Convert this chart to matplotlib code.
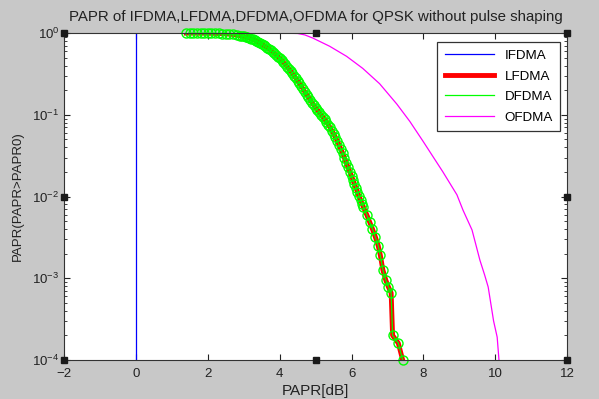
import matplotlib
matplotlib.use("Agg")
import matplotlib.pyplot as plt
import matplotlib.ticker as mticker

plt.rcParams['font.family'] = ['Liberation Sans', 'DejaVu Sans']
plt.rcParams['mathtext.default'] = 'regular'

# IFDMA: constant envelope -> vertical line at 0 dB
papr_i = [0.0, 0.0]
ccdf_i = [1.0, 1e-4]

# LFDMA / DFDMA (same curve)
papr_l = [1.40, 1.50, 1.60, 1.70, 1.80, 1.90, 2.00, 2.10, 2.20, 2.30, 2.40, 2.50,
          2.60, 2.70, 2.80, 2.90, 2.95, 3.00, 3.05, 3.10, 3.15, 3.20, 3.25, 3.30,
          3.35, 3.40, 3.45, 3.50, 3.55, 3.60, 3.65, 3.70, 3.75, 3.80, 3.85, 3.90,
          3.95, 4.00, 4.05, 4.10, 4.15, 4.20, 4.25, 4.30, 4.35, 4.40, 4.45, 4.50,
          4.55, 4.60, 4.65, 4.70, 4.75, 4.80, 4.85, 4.90, 4.95, 5.00, 5.05, 5.10,
          5.15, 5.20, 5.25, 5.30, 5.35, 5.40, 5.45, 5.50, 5.55, 5.60, 5.65, 5.70,
          5.75, 5.80, 5.85, 5.90, 5.95, 6.00, 6.04, 6.08, 6.12, 6.16, 6.20, 6.25,
          6.29, 6.33, 6.42, 6.50, 6.58, 6.66, 6.74, 6.80, 6.87, 6.95, 7.02, 7.10,
          7.14, 7.30, 7.42]
ccdf_l = [1.0, 1.0, 1.0, 0.999, 0.999, 0.998, 0.997, 0.995, 0.993, 0.99, 0.986, 0.98,
          0.972, 0.962, 0.948, 0.93, 0.92, 0.91, 0.898, 0.885, 0.87, 0.855, 0.838, 0.82,
          0.80, 0.78, 0.758, 0.735, 0.712, 0.69, 0.665, 0.64, 0.615, 0.59, 0.565, 0.54,
          0.515, 0.49, 0.465, 0.44, 0.415, 0.39, 0.367, 0.345, 0.322, 0.30, 0.28, 0.26,
          0.242, 0.225, 0.207, 0.19, 0.177, 0.165, 0.152, 0.14, 0.131, 0.122, 0.114, 0.107,
          0.100, 0.094, 0.088, 0.082, 0.076, 0.070, 0.064, 0.059, 0.053, 0.048, 0.043, 0.038,
          0.034, 0.0295, 0.026, 0.023, 0.020, 0.0178, 0.0158, 0.0141, 0.0128, 0.0115, 0.0102, 0.0091,
          0.0082, 0.0074, 0.0060, 0.0049, 0.0040, 0.0032, 0.0025, 0.0019, 0.00126, 0.00095, 0.00079, 0.00066,
          0.0002, 0.00016, 0.0001]

# OFDMA
papr_o = [3.0, 3.5, 4.0, 4.5, 4.7, 4.92, 5.39, 5.86, 6.31, 6.78, 7.26, 7.62, 7.98,
          8.54, 8.93, 9.1, 9.35, 9.57, 9.7, 9.80, 9.95, 10.05, 10.10]
ccdf_o = [1.0, 1.0, 0.999, 0.99, 0.95, 0.87, 0.69, 0.52, 0.37, 0.24, 0.135, 0.083, 0.048,
          0.020, 0.0105, 0.0068, 0.0039, 0.00166, 0.0011, 0.00078, 0.0003, 0.00019, 0.0001]

xticks = [-2, 0, 2, 4, 6, 8, 10, 12]

fig = plt.figure(figsize=(5.99, 3.99), dpi=100, facecolor='#c8c8c8')
ax = fig.add_axes([0.107, 0.098, 0.840, 0.819])

ax.semilogy(papr_i, ccdf_i, color='#0000ff', lw=0.9, label='IFDMA')
ax.semilogy(papr_l, ccdf_l, color='#ff0000', lw=3.5, label='LFDMA')
ax.semilogy(papr_l, ccdf_l, color='#00ff00', lw=0.9, label='DFDMA')
ax.semilogy(papr_l, ccdf_l, ls='none', marker='o', ms=6.5, mfc='none',
            mec='#00ff00', mew=1.0, clip_on=False)
ax.semilogy(papr_o, ccdf_o, color='#ff00ff', lw=0.9, label='OFDMA')

ax.set_xlim(-2, 12)
ax.set_ylim(1e-4, 1)
ax.set_xticks(xticks)
ax.yaxis.set_major_locator(mticker.LogLocator(base=10, numticks=10))
ax.yaxis.set_minor_locator(mticker.LogLocator(base=10, subs=range(2, 10), numticks=10))
ax.yaxis.set_minor_formatter(mticker.NullFormatter())
ax.tick_params(which='both', direction='in', top=True, right=True, labelsize=9.5,
               colors='#222222')
ax.tick_params(axis='x', pad=6)
ax.tick_params(which='major', length=4)
ax.tick_params(which='minor', length=2)
for s in ax.spines.values():
    s.set_color('#333333')

ax.set_title('PAPR of IFDMA,LFDMA,DFDMA,OFDMA for QPSK without pulse shaping',
             fontsize=10.8, color='#222222', pad=9)
ax.set_xlabel('PAPR[dB]', fontsize=11, color='#222222', labelpad=3)
ax.set_ylabel('PAPR(PAPR>PAPR0)', fontsize=9.5, color='#222222', labelpad=6)

leg = ax.legend(loc='upper right', bbox_to_anchor=(0.986, 0.972), borderaxespad=0,
                fontsize=9.6, handlelength=3.7, fancybox=False, framealpha=1,
                edgecolor='#333333', borderpad=0.55, labelspacing=0.62)
leg.get_frame().set_linewidth(0.9)

# selection handles at corners and edge midpoints
hx = [0, 0.5, 1, 1, 1, 0.5, 0, 0]
hy = [0, 0, 0, 0.5, 1, 1, 1, 0.5]
ax.plot(hx, hy, ls='none', marker='s', ms=5, color='#1a1a1a',
        transform=ax.transAxes, clip_on=False, zorder=5)

fig.savefig('out.png', dpi=100, facecolor=fig.get_facecolor())
